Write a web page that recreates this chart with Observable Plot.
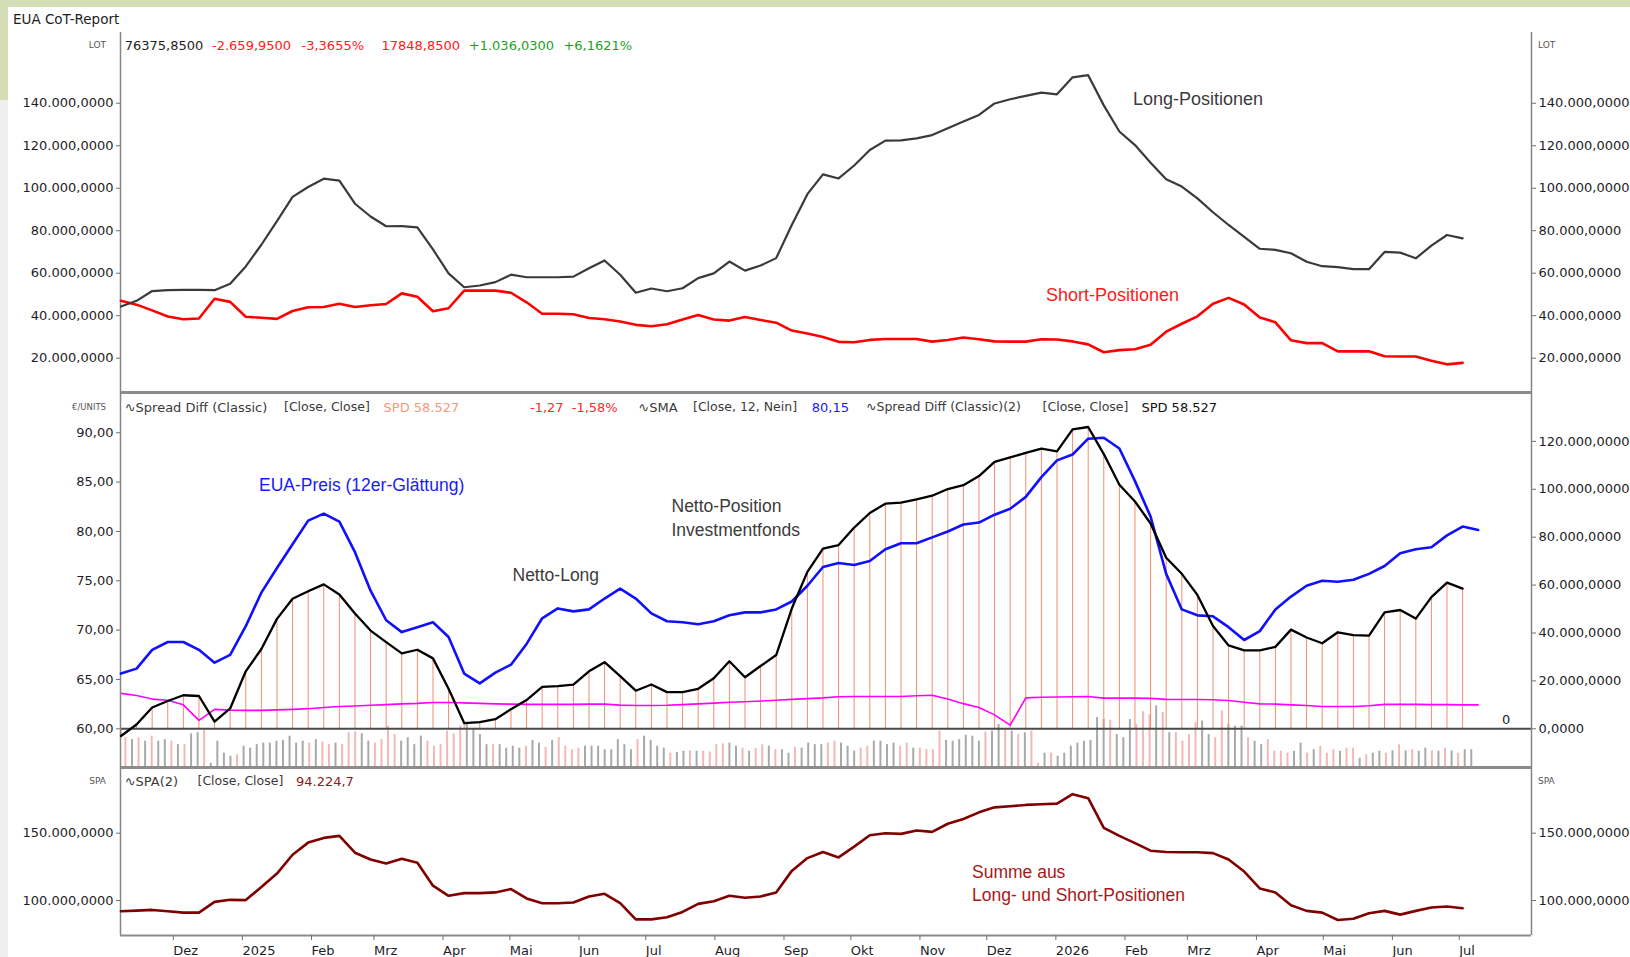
<!DOCTYPE html>
<html><head><meta charset="utf-8">
<script src="https://cdn.jsdelivr.net/npm/d3@7"></script>
<script src="https://cdn.jsdelivr.net/npm/@observablehq/plot@0.6"></script>
<style>
html,body{margin:0;padding:0;background:#fff;}
body{width:1630px;height:957px;overflow:hidden;position:relative;font-family:"DejaVu Sans",sans-serif;}
.t{position:absolute;white-space:nowrap;line-height:1;}
.layer{position:absolute;left:0;}
</style></head><body>
<div style="position:absolute;left:0;top:0;width:1630px;height:7px;background:#d5ddb6"></div>
<div style="position:absolute;left:0;top:0;width:8px;height:100px;background:#d5ddb6"></div>
<div style="position:absolute;left:0;top:100px;width:8px;height:857px;background:#efefef"></div>
<script>
// ---------- data (values in thousand lots, price in EUR) ----------
const weekStartUTC = [2024, 10, 7, 12];           // first weekly report point
const longPos = [44.3,47,51.6,52,52.2,52.2,52,55,63.2,73.4,
  84.5,95.9,100.6,104.5,103.6,92.7,86.7,82.1,82.2,81.6,
  71.2,59.9,53.4,54.2,55.8,59.3,58.1,58.1,58.1,58.4,
  62.3,66,59.3,50.8,52.8,51.5,52.9,57.7,59.9,65.5,
  61.2,63.6,67.1,82.7,97.2,106.5,104.6,110.7,118,122.4,
  122.5,123.5,125,128.2,131.4,134.5,139.9,141.9,143.5,145,
  144.2,152.2,153.2,139,126.7,120.3,112,104.2,100.8,95.2,
  88.7,82.7,77.1,71.5,71,69.4,65.4,63.3,62.9,61.9,
  61.9,70,69.7,67,73,78,76.4];
const shortPos = [47,45.2,42.5,39.6,38.3,38.7,48,46.5,39.5,39,
  38.5,42.2,44,44.1,45.6,44.1,44.9,45.5,50.5,48.9,
  42.1,43.5,51.8,51.8,51.8,50.8,46.3,40.9,40.9,40.7,
  38.9,38.3,37.3,35.7,35,36,38.2,40.3,38.2,37.7,
  39.4,38,36.7,33,31.6,30,27.7,27.5,28.6,29,
  29,29,27.8,28.6,29.7,28.9,27.9,27.8,27.8,28.9,
  28.8,27.9,26.5,22.8,23.8,24.2,26.3,32.5,36.2,39.7,
  45.6,48.4,45.3,39.2,36.9,28.4,27.1,27.1,23.2,23.2,
  23.3,20.9,20.8,20.8,18.8,17.1,17.8];
const netPos = [-3,1.8,8.9,11.6,14,13.7,3,8.5,24,33.3,
  45.9,54.3,57.4,60.3,56.1,48.1,41,36.2,31.5,33,
  29.4,16.7,2.4,2.8,4,8.2,12,17.5,17.8,18.4,
  24,27.8,22,15.9,18.5,15.3,15.3,16.7,21.1,28.2,
  21.5,26.2,30.8,50.2,65.5,75.2,76.7,84,90.1,94,
  94.4,95.8,97.3,100.1,101.7,105.5,111.4,113.3,115.2,117,
  115.8,125,126,114.7,101.9,94.9,85.7,71.4,64.7,55.9,
  42.9,34.8,32.7,32.7,34.2,41.4,38.1,35.7,40.3,39.1,
  38.9,48.6,49.6,46,55,61,58.5];
const sumPos = [92,92.5,93,92,91,91,99,100.5,100.3,110,
  120,134,143,146.5,148,135.5,130.5,127.5,131,128,
  111,103.5,105.5,105.5,106,108.5,101.5,98,98,98.5,
  103,105,98,86,86,87.5,91.5,97.5,99.5,103.5,
  102,103,106,122,131.5,136,132,140,148.5,150,
  149.5,152,151,157,160.5,165.5,169.2,170,171,171.5,
  172,179,176,154,148,142.6,137,136,135.8,135.8,
  135.2,130.5,121.5,109,106,96.5,92.3,91,85.5,86.5,
  90.5,92.3,89.5,92.3,94.8,95.6,94.2];
const priceSMA = [65.6,66.1,68,68.8,68.8,68,66.7,67.5,70.4,73.8,
  76.3,78.7,81.1,81.8,81,77.9,74,71,69.8,70.3,
  70.8,69.3,65.6,64.6,65.7,66.5,68.6,71.2,72.2,71.9,
  72.1,73.2,74.2,73.2,71.7,70.9,70.8,70.6,70.9,71.5,
  71.8,71.8,72.1,72.9,74.5,76.4,76.8,76.6,77,78.2,
  78.8,78.8,79.4,80,80.7,80.9,81.7,82.3,83.5,85.5,
  87.2,87.8,89.4,89.5,88.4,85.1,81.5,75.7,72.1,71.5,
  71.4,70.3,69,69.9,72.1,73.4,74.5,75,74.9,75.1,
  75.7,76.5,77.8,78.2,78.4,79.6,80.5,80.15];
const magentaLine = [14.8,13.9,12.4,11.9,10,3.5,8.1,7.8,7.7,7.7,
  7.9,8.1,8.4,8.9,9.3,9.5,9.8,10.1,10.4,10.6,
  11,11,10.8,10.6,10.4,10.3,10.2,10.2,10.2,10.2,
  10.3,10.3,9.9,9.7,9.7,9.8,10.1,10.4,10.7,11.1,
  11.3,11.6,11.9,12.3,12.6,12.9,13.4,13.5,13.5,13.5,
  13.5,13.8,14,12.4,10.5,8.9,5.8,1.5,12.9,13.2,
  13.3,13.4,13.5,12.8,12.8,12.8,12.7,12.3,12.2,12.2,
  12.1,11.8,11.1,10.4,10.3,10,9.7,9.3,9.3,9.3,
  9.6,10.2,10.2,10.2,10.1,10.1,10,10];
// volume bars (relative height, 100 = zero line) and up/down flag
const volumeStartUTC = [2024, 10, 9, 12];
const volumeStepHours = 70.7;
const volume = [77,72,77,68,81,68,72,68,59,59,87,90,96,11,68,37,29,33,55,50,
  59,63,63,68,70,81,63,68,63,72,66,59,63,59,90,92,87,68,63,72,
  107,85,68,77,59,81,68,55,59,94,87,107,111,101,85,59,59,59,50,55,
  50,55,70,63,52,70,77,55,46,50,55,55,55,46,46,72,59,46,72,81,
  70,55,50,37,39,42,43,42,42,40,59,61,63,55,50,42,49,59,55,46,
  46,37,52,50,63,59,59,63,68,63,55,42,50,55,68,68,59,63,55,63,
  50,50,46,46,94,70,68,72,83,81,68,92,94,111,96,94,85,90,94,11,
  37,37,29,37,55,63,68,70,129,124,122,85,77,124,111,144,137,159,142,90,
  90,68,85,116,120,85,77,146,111,107,107,77,68,59,72,42,42,37,42,63,
  37,46,55,37,46,42,50,50,24,33,37,42,37,43,59,43,46,42,50,43,
  42,50,43,37,46,46];
const volumeDir = "pgpgpggpgpggpggggpggggggggggpgppgpppggppppggggppppppggggpggggpggpgppppggggggggpggggpggpgppppggpgppgpggpggggppgggppggggppgpppp" +
  "ggggggpggpgpgppgpggggggggpgggpppgpgppppggppgggpggppppggpgpppgppgpggpgpgpggpgpgpgggppppgpp";
const monthLabels = ["Dez","2025","Feb","Mrz","Apr","Mai","Jun","Jul","Aug","Sep","Okt","Nov","Dez","2026","Feb","Mrz","Apr","Mai","Jun","Jul"];
const lotTicksTop = [20,40,60,80,100,120,140];
const priceTicks = [60,65,70,75,80,85,90];
const netTicks = [0,20,40,60,80,100,120];
const sumTicks = [100,150];

// ---------- helpers ----------
const W = 1630;
const DV = '"DejaVu Sans", sans-serif';
const LS = '"Liberation Sans", Arial, sans-serif';
const de = d3.formatLocale({decimal: ",", thousands: ".", grouping: [3], currency: ["", " €"]});
const fmtLot = d => de.format(",.4f")(d * 1000);
const fmtEur = de.format(",.2f");
const xDomain = [new Date(Date.UTC(2024,10,7,7)), new Date(Date.UTC(2026,7,2,10))];
const weekStart = Date.UTC(...weekStartUTC);
const weeks = longPos.map((v, i) => ({
  date: new Date(weekStart + i * 7 * 864e5),
  long: v, short: shortPos[i], net: netPos[i], sum: sumPos[i]
}));
const weeksPrice = priceSMA.map((v, i) => ({date: new Date(weekStart + i * 7 * 864e5), price: v, mag: magentaLine[i]}));
const volStart = Date.UTC(...volumeStartUTC);
const vol = volume.map((h, i) => ({date: new Date(volStart + i * volumeStepHours * 36e5), h, c: volumeDir[i] || "g"}));
const monthDates = monthLabels.map((_, i) => new Date(Date.UTC(2024, 11 + i, 1)));
const monthLabel = d => monthLabels[monthDates.findIndex(m => +m === +d)];

function txt(s, x, y, o = {}) {
  const el = document.createElement("div");
  el.className = "t";
  el.textContent = s;
  el.style.left = x + "px";
  el.style.top = y + "px";
  el.style.fontFamily = o.family || DV;
  el.style.fontSize = (o.size || 13) + "px";
  el.style.color = o.color || "#1e1e1e";
  el.style.transform = o.anchor === "end" ? "translate(-100%,-50%)" : "translateY(-50%)";
  document.body.appendChild(el);
}
function place(svg, top) {
  const d = document.createElement("div");
  d.className = "layer";
  d.style.top = top + "px";
  d.appendChild(svg);
  document.body.appendChild(d);
}
const svgStyle = {background: "transparent", overflow: "visible", fontFamily: DV, fontSize: "13px", color: "#1e1e28"};
const base = (h, ydom, extra = {}) => ({
  width: W, height: h, marginLeft: 120, marginRight: 99, marginTop: 0, marginBottom: 0,
  x: {type: "utc", domain: xDomain, axis: null, label: null},
  y: {domain: ydom, label: null, axis: null},
  style: svgStyle, ...extra
});
const edges = () => Plot.ruleX(xDomain, {stroke: "#858585", strokeWidth: 1.5});
const axOpts = {tickSize: 4, tickPadding: 3, stroke: "#707070", fill: "#1e1e28"};

// ---------- top panel: Long / Short ----------
place(Plot.plot(base(360, [3.85, 173.3], {marks: [
  edges(),
  Plot.ruleY([3.85], {stroke: "#8c8c8c", strokeWidth: 3}),
  Plot.axisY(lotTicksTop, {anchor: "left", tickFormat: fmtLot, ...axOpts}),
  Plot.axisY(lotTicksTop, {anchor: "right", tickFormat: fmtLot, ...axOpts}),
  Plot.line(weeks, {x: "date", y: "short", stroke: "#ff0000", strokeWidth: 2.6}),
  Plot.line(weeks, {x: "date", y: "long", stroke: "#3a3a3a", strokeWidth: 2.2})
]})), 32);

// ---------- middle panel (layers) ----------
const MID_TOP = 392, MID_H = 375;
const netDom = [-16.16, 140.4];
place(Plot.plot(base(MID_H, [0, 969], {marks: [
  Plot.ruleX(vol, {filter: d => d.c === "g", x: "date", y1: 0, y2: "h", stroke: "#a9a9a9", strokeWidth: 2}),
  Plot.ruleX(vol, {filter: d => d.c === "p", x: "date", y1: 0, y2: "h", stroke: "#f3b7b7", strokeWidth: 2})
]})), MID_TOP);
place(Plot.plot(base(MID_H, netDom, {marks: [
  Plot.ruleX(weeks, {x: "date", y1: 0, y2: "net", stroke: "#f28e6f", strokeWidth: 1}),
  Plot.ruleY([0], {stroke: "#4a4a4a", strokeWidth: 2}),
  Plot.ruleY([netDom[0]], {stroke: "#8c8c8c", strokeWidth: 3}),
  Plot.line(weeksPrice, {x: "date", y: "mag", stroke: "#ff00ff", strokeWidth: 1.6})
]})), MID_TOP);
place(Plot.plot(base(MID_H, [56.08, 94.08], {marks: [
  edges(),
  Plot.axisY(priceTicks, {anchor: "left", tickFormat: fmtEur, ...axOpts}),
  Plot.line(weeksPrice, {x: "date", y: "price", stroke: "#1010ff", strokeWidth: 2.6})
]})), MID_TOP);
place(Plot.plot(base(MID_H, netDom, {marks: [
  Plot.axisY(netTicks, {anchor: "right", tickFormat: fmtLot, ...axOpts}),
  Plot.line(weeks, {x: "date", y: "net", stroke: "#000000", strokeWidth: 2.3})
]})), MID_TOP);

// ---------- bottom panel: Sum ----------
place(Plot.plot(base(190, [74, 198.8], {marginBottom: 22, marks: [
  edges(),
  Plot.ruleY([74], {stroke: "#8c8c8c", strokeWidth: 2}),
  Plot.axisY(sumTicks, {anchor: "left", tickFormat: fmtLot, ...axOpts}),
  Plot.axisY(sumTicks, {anchor: "right", tickFormat: fmtLot, ...axOpts}),
  Plot.axisX(monthDates, {anchor: "bottom", tickSize: 5, tickPadding: 5, textAnchor: "start", tickFormat: monthLabel, stroke: "#707070", fill: "#1e1e28"}),
  Plot.line(weeks, {x: "date", y: "sum", stroke: "#800000", strokeWidth: 2.6})
]})), 767);

// ---------- texts ----------
txt("EUA CoT-Report", 13, 19.5, {size: 13.5});
txt("LOT", 106, 44.7, {size: 9, color: "#555", anchor: "end"});
txt("LOT", 1538, 44.7, {size: 9, color: "#555"});
txt("76375,8500", 124.7, 44.7);
txt("-2.659,9500", 212, 44.7, {color: "#ff2020"});
txt("-3,3655%", 301.5, 44.7, {color: "#ff2020"});
txt("17848,8500", 381.5, 44.7, {color: "#ff2020"});
txt("+1.036,0300", 468.8, 44.7, {color: "#1f9f1f"});
txt("+6,1621%", 563.4, 44.7, {color: "#1f9f1f"});

txt("€/UNITS", 106, 406.5, {size: 8.5, color: "#555", anchor: "end"});
txt("∿Spread Diff (Classic)", 124.7, 406.5, {color: "#3a3a3a"});
txt("[Close, Close]", 284, 406.5, {size: 12.5, color: "#3a3a3a"});
txt("SPD 58.527", 383.6, 406.5, {color: "#f39a7a"});
txt("-1,27", 530, 406.5, {color: "#ff2a2a"});
txt("-1,58%", 571.7, 406.5, {color: "#ff2a2a"});
txt("∿SMA", 638.3, 406.5, {color: "#3a3a3a"});
txt("[Close, 12, Nein]", 693, 406.5, {size: 12.5, color: "#3a3a3a"});
txt("80,15", 811.8, 406.5, {color: "#1a1aff"});
txt("∿Spread Diff (Classic)(2)", 866, 406.5, {size: 12.5, color: "#3a3a3a"});
txt("[Close, Close]", 1042.6, 406.5, {size: 12.5, color: "#3a3a3a"});
txt("SPD 58.527", 1141.4, 406.5, {color: "#111"});
txt("0", 1502, 719, {size: 13});

txt("SPA", 106, 780.7, {size: 9, color: "#555", anchor: "end"});
txt("SPA", 1538, 780.7, {size: 9, color: "#555"});
txt("∿SPA(2)", 124.7, 780.7, {color: "#3a3a3a"});
txt("[Close, Close]", 197.5, 780.7, {size: 12.5, color: "#3a3a3a"});
txt("94.224,7", 296, 780.7, {color: "#8b1a1a"});

txt("Long-Positionen", 1133, 98.7, {family: LS, size: 18, color: "#3c3c3c"});
txt("Short-Positionen", 1046, 295, {family: LS, size: 18, color: "#ff1a1a"});
txt("EUA-Preis (12er-Glättung)", 259, 485.5, {family: LS, size: 17.5, color: "#1a1aff"});
txt("Netto-Position", 671.5, 507, {family: LS, size: 17.5, color: "#3c3c3c"});
txt("Investmentfonds", 671.5, 531, {family: LS, size: 17.5, color: "#3c3c3c"});
txt("Netto-Long", 512.5, 576, {family: LS, size: 17.5, color: "#3c3c3c"});
txt("Summe aus", 972, 873, {family: LS, size: 17.5, color: "#a81818"});
txt("Long- und Short-Positionen", 972, 896, {family: LS, size: 17.5, color: "#a81818"});
</script>
</body></html>
